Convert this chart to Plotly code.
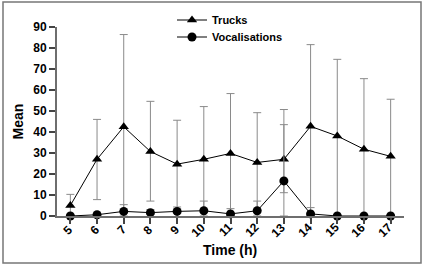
import plotly.graph_objects as go

hours = [5, 6, 7, 8, 9, 10, 11, 12, 13, 14, 15, 16, 17]
hour_labels = [str(h) for h in hours]
trucks_mean = [5.0, 27.0, 42.5, 30.7, 24.7, 27.0, 29.8, 25.5, 27.0, 42.7, 38.1, 31.8, 28.4]
trucks_upper = [10.3, 46.0, 86.4, 54.6, 45.6, 52.1, 58.3, 49.2, 50.7, 81.6, 74.6, 65.4, 55.6]
trucks_lower = [0.0, 7.8, 0.0, 7.1, 4.3, 0.0, 0.0, 0.0, 0.0, 0.0, 0.0, 0.0, 0.0]
vocal_mean = [0.0, 0.6, 2.2, 1.6, 2.2, 2.5, 1.0, 2.5, 16.7, 1.0, 0.0, 0.0, 0.0]
vocal_upper = [0.0, 0.6, 5.4, 3.0, 2.2, 7.1, 3.5, 7.1, 43.5, 4.0, 0.0, 0.0, 0.0]
vocal_lower = [0.0, 0.6, 2.2, 1.6, 2.2, 2.5, 1.0, 2.5, 11.1, 1.0, 0.0, 0.0, 0.0]

t_plus = [u - m for u, m in zip(trucks_upper, trucks_mean)]
t_minus = [m - l for m, l in zip(trucks_mean, trucks_lower)]
v_plus = [u - m for u, m in zip(vocal_upper, vocal_mean)]
v_minus = [m - l for m, l in zip(vocal_mean, vocal_lower)]

FONT = "Liberation Sans, Arial, sans-serif"

fig = go.Figure()
fig.add_trace(go.Scatter(
    x=hours, y=trucks_mean, name="Trucks", mode="lines+markers",
    line=dict(color="black", width=1),
    marker=dict(symbol="triangle-up", size=9, color="black"),
    error_y=dict(type="data", symmetric=False, array=t_plus, arrayminus=t_minus,
                 color="#8a8a8a", thickness=1, width=4),
    cliponaxis=False, legend="legend",
))
fig.add_trace(go.Scatter(
    x=hours, y=vocal_mean, name="Vocalisations", mode="lines+markers",
    line=dict(color="black", width=1),
    marker=dict(symbol="circle", size=9, color="black"),
    error_y=dict(type="data", symmetric=False, array=v_plus, arrayminus=v_minus,
                 color="#8a8a8a", thickness=1, width=4),
    cliponaxis=False, legend="legend2",
))

L, R, T, B = 57, 20, 27, 53
W, H = 424, 269
pw, ph = W - L - R, H - T - B

def px(x):
    return (x - L) / pw

def py(y):
    return (H - B - y) / ph

fig.add_shape(type="rect", xref="paper", yref="paper",
              x0=px(3), x1=px(421), y0=py(263), y1=py(2),
              line=dict(color="#777777", width=1.5), layer="below")

for h, lab in zip(hours, hour_labels):
    fig.add_annotation(text=lab, xref="x", yref="paper", x=h, y=py(229.5),
                       xshift=-2.5 if len(lab) == 1 else -5.5,
                       showarrow=False, textangle=-45,
                       xanchor="center", yanchor="middle",
                       font=dict(family=FONT, size=12, color="black", weight="bold"))

fig.add_annotation(text="Time (h)", xref="paper", yref="paper",
                   x=px(230), y=py(250), showarrow=False,
                   xanchor="center", yanchor="middle",
                   font=dict(family=FONT, size=14, color="black", weight="bold"))

leg_common = dict(xanchor="left", yanchor="middle",
                  font=dict(family=FONT, size=11, color="black", weight="bold"),
                  bgcolor="rgba(0,0,0,0)", itemwidth=30)

fig.update_layout(
    width=W, height=H,
    margin=dict(l=L, r=R, t=T, b=B, autoexpand=False),
    paper_bgcolor="white", plot_bgcolor="white",
    font=dict(family=FONT, size=12, color="black"),
    showlegend=True,
    legend=dict(x=px(172), y=py(20), **leg_common),
    legend2=dict(x=px(172), y=py(37), **leg_common),
    xaxis=dict(
        range=[4.5, 17.5], tickvals=hours, showticklabels=False,
        showgrid=False, zeroline=False, automargin=False,
        showline=True, linecolor="#6e6e6e", linewidth=2,
        ticks="outside", ticklen=6, tickwidth=1.5, tickcolor="#444",
    ),
    yaxis=dict(
        range=[0, 90], tickvals=list(range(0, 91, 10)),
        showgrid=False, zeroline=False, automargin=False,
        showline=True, linecolor="#6e6e6e", linewidth=2,
        ticks="outside", ticklen=6, tickwidth=1.5, tickcolor="#444",
        tickfont=dict(family=FONT, size=12, color="black", weight="bold"),
        title=dict(text="Mean", standoff=6,
                   font=dict(family=FONT, size=14, color="black", weight="bold")),
    ),
)

fig.write_html("out.html")
